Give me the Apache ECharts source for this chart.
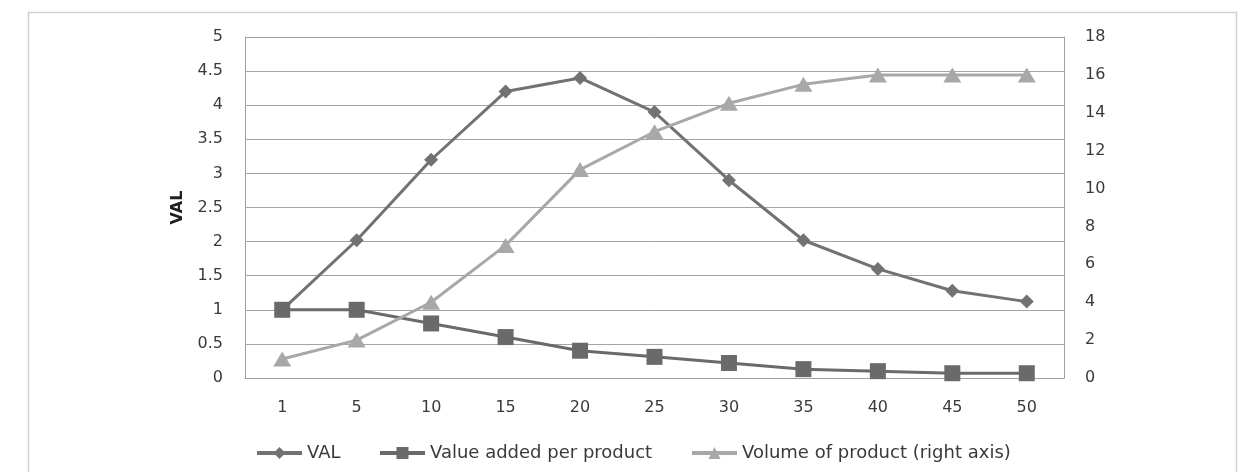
<!DOCTYPE html>
<html><head><meta charset="utf-8">
<script src="https://cdn.jsdelivr.net/npm/echarts@6/dist/echarts.min.js"></script>
<style>html,body{margin:0;padding:0;background:#fff}#c{width:1249px;height:472px}</style>
</head><body><div id="c"></div>
<script>
const categories = ['1','5','10','15','20','25','30','35','40','45','50'];
const valSeries = [1.0, 2.02, 3.2, 4.2, 4.4, 3.9, 2.9, 2.02, 1.6, 1.28, 1.12];
const valueAdded = [1.0, 1.0, 0.8, 0.6, 0.4, 0.31, 0.22, 0.13, 0.1, 0.07, 0.07];
const volume = [1, 2, 4, 7, 11, 13, 14.5, 15.5, 16, 16, 16];
const seriesNames = ['VAL', 'Value added per product', 'Volume of product (right axis)'];

const font = 'DejaVu Sans';
const legendLefts = [255, 378, 690];
const legendText = {fontFamily: font, fontSize: 18, color: '#3a3a3a'};
const chart = echarts.init(document.getElementById('c'));
chart.setOption({
  animation: false,
  textStyle: {fontFamily: font},
  graphic: [{type: 'rect', shape: {x: 28.5, y: 12.5, width: 1208, height: 480}, style: {fill: 'none', stroke: '#d0d0d0', lineWidth: 1.5}, silent: true}],
  grid: {left: 245, right: 185, top: 37, bottom: 94, containLabel: false},
  legend: seriesNames.map((n, i) => ({
    left: legendLefts[i], top: 444, itemWidth: 45, itemHeight: 15, itemGap: 5,
    padding: 0, textStyle: legendText, data: [n],
    lineStyle: {width: 4}
  })),
  xAxis: {
    type: 'category', data: categories, boundaryGap: true,
    axisLine: {lineStyle: {color: '#a0a0a0'}},
    axisTick: {show: false},
    axisLabel: {color: '#3a3a3a', fontSize: 16, margin: 22}
  },
  yAxis: [{
    type: 'value', min: 0, max: 5, interval: 0.5,
    name: 'VAL', nameLocation: 'middle', nameGap: 59, nameRotate: 90,
    nameTextStyle: {fontWeight: 'bold', fontSize: 16, color: '#202020'},
    axisLine: {show: true, lineStyle: {color: '#a0a0a0'}},
    axisTick: {show: false},
    axisLabel: {color: '#3a3a3a', fontSize: 16, margin: 22},
    splitLine: {lineStyle: {color: '#a4a4a4', width: 1}}
  }, {
    type: 'value', min: 0, max: 18, interval: 2, position: 'right',
    axisLine: {show: true, lineStyle: {color: '#a0a0a0'}},
    axisTick: {show: false},
    axisLabel: {color: '#3a3a3a', fontSize: 16, margin: 21},
    splitLine: {show: false}
  }],
  series: [{
    name: seriesNames[0], type: 'line', data: valSeries, yAxisIndex: 0,
    symbol: 'diamond', symbolSize: 14,
    lineStyle: {color: '#727272', width: 3}, itemStyle: {color: '#727272'}
  }, {
    name: seriesNames[1], type: 'line', data: valueAdded, yAxisIndex: 0,
    symbol: 'rect', symbolSize: 16,
    lineStyle: {color: '#6a6a6a', width: 3}, itemStyle: {color: '#6a6a6a'}
  }, {
    name: seriesNames[2], type: 'line', data: volume, yAxisIndex: 1,
    symbol: 'triangle', symbolSize: [18, 15],
    lineStyle: {color: '#a8a8a8', width: 3}, itemStyle: {color: '#a8a8a8'}
  }]
});
</script></body></html>
